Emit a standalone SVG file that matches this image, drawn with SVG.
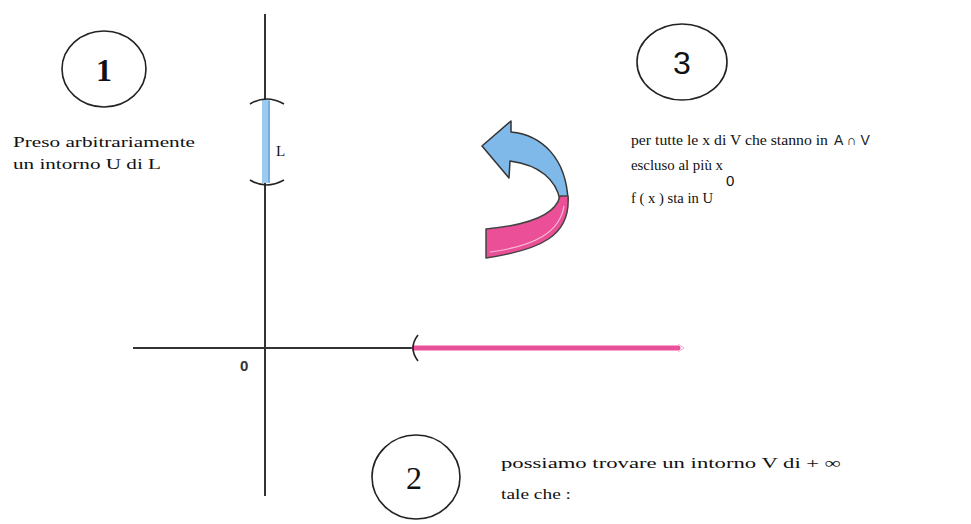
<svg xmlns="http://www.w3.org/2000/svg" width="971" height="524" viewBox="0 0 971 524">
<style>
.ax{stroke:#333;stroke-width:2;fill:none}
.circ{fill:none;stroke:#222;stroke-width:1.6}
.num{font-family:"Liberation Serif",serif;font-size:32px;fill:#111;text-anchor:middle}
.numS{font-family:"Liberation Sans",sans-serif;font-size:32px;fill:#111;text-anchor:middle}
.t{font-family:"Liberation Serif",serif;font-size:15px;fill:#111}
.br{fill:none;stroke:#222;stroke-width:1.6}
</style>
<rect width="971" height="524" fill="#fff"/>
<g id="axes">
<line class="ax" x1="265" y1="14" x2="265" y2="496"/>
<line class="ax" x1="133" y1="348" x2="413" y2="348"/>
<text x="240" y="371" font-family="Liberation Sans,sans-serif" font-size="15" font-weight="bold" fill="#333">0</text>
</g>
<g id="intervalU">
<rect x="262" y="100" width="8" height="83" fill="#9ccbef"/>
<line x1="269" y1="101" x2="269" y2="182" stroke="#5b9bd5" stroke-width="1.2"/>
<path class="br" d="M250,104 Q266,94 284,104"/>
<path class="br" d="M250,180 Q266,190 284,180"/>
<text class="t" x="276" y="156" font-size="16">L</text>
</g>
<g id="intervalV">
<line x1="414" y1="348" x2="678" y2="348" stroke="#e8509a" stroke-width="5" stroke-linecap="round"/>
<path d="M678,344 L684,348 L678,352" fill="none" stroke="#f3b3cf" stroke-width="1"/>
<path class="br" d="M418,335 Q408,348 418,361"/>
</g>
<g id="node1">
<ellipse class="circ" cx="104" cy="69" rx="42" ry="38"/>
<text class="num" x="104" y="81" font-weight="bold">1</text>
<text class="t" x="13" y="147" textLength="182" lengthAdjust="spacingAndGlyphs">Preso arbitrariamente</text>
<text class="t" x="13" y="169" textLength="148" lengthAdjust="spacingAndGlyphs">un intorno U di L</text>
</g>
<g id="node3">
<ellipse class="circ" cx="682" cy="62" rx="45" ry="38"/>
<text class="numS" x="682" y="74">3</text>
<text class="t" x="631" y="145" textLength="197" lengthAdjust="spacingAndGlyphs">per tutte le x di V che stanno in</text>
<text x="834" y="145" font-family="Liberation Sans,sans-serif" font-size="14" fill="#222">A ∩ V</text>
<text class="t" x="631" y="170" textLength="92" lengthAdjust="spacingAndGlyphs">escluso al più x</text>
<text x="726" y="186" font-family="Liberation Sans,sans-serif" font-size="15" fill="#111">0</text>
<text class="t" x="631" y="203" textLength="82" lengthAdjust="spacingAndGlyphs">f ( x ) sta in U</text>
</g>
<g id="node2">
<ellipse class="circ" cx="416" cy="477" rx="44" ry="42"/>
<text class="num" x="414" y="489">2</text>
<text class="t" x="501" y="468" textLength="340" lengthAdjust="spacingAndGlyphs">possiamo trovare un intorno V di  + ∞</text>
<text class="t" x="501" y="499" textLength="70" lengthAdjust="spacingAndGlyphs">tale che :</text>
</g>
<g id="connectors">
<path d="M482,146 L511,121 L511,132 C542,135 566,158 568,200 L560,200 C556,180 540,165 510,161 L509,178 Z" fill="#7fb9ea" stroke="#333" stroke-width="1.5" stroke-linejoin="round"/>
<path d="M568,196 C571,236 540,250 486,258 L486,229 C530,225 556,214 560,196 Z" fill="#ea4f97" stroke="#444" stroke-width="1.5" stroke-linejoin="round"/>
<path d="M490,252 C535,246 560,232 564,206" fill="none" stroke="#f7bfd7" stroke-width="1.2"/>
</g>
</svg>
